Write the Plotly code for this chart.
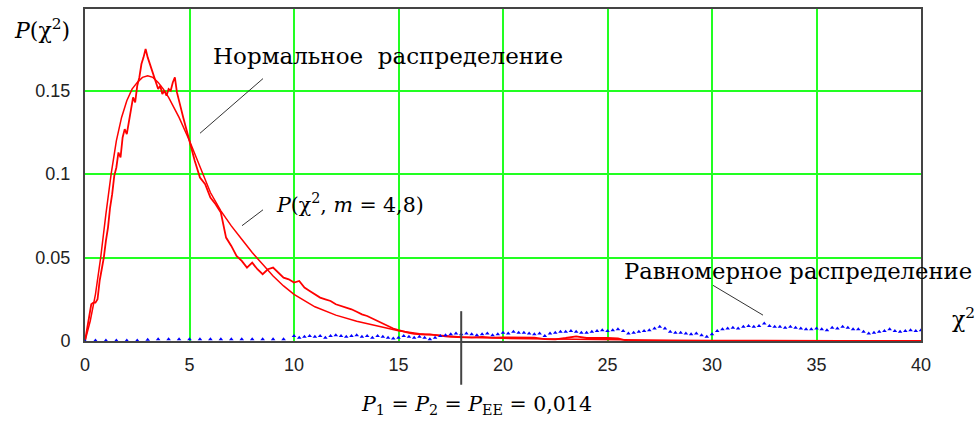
import numpy as np
import plotly.graph_objects as go

# ---------------- data ----------------
# Empirical (noisy) distribution – "Нормальное распределение"
noisy_x = list(np.round(np.arange(0, 5.0001, 0.1), 2)) + \
          list(np.round(np.arange(5.25, 18.0001, 0.25), 2)) + \
          list(np.round(np.arange(18.5, 40.0001, 0.5), 2))
noisy_y = [
    0.000, 0.008, 0.015, 0.022, 0.023, 0.023, 0.025, 0.036, 0.043, 0.050,
    0.060, 0.068, 0.080, 0.088, 0.099, 0.104, 0.113, 0.110, 0.122, 0.127,
    0.124, 0.132, 0.138, 0.146, 0.143, 0.153, 0.158, 0.166, 0.170, 0.175,
    0.170, 0.166, 0.162, 0.158, 0.155, 0.151, 0.153, 0.148, 0.150, 0.147,
    0.151, 0.150, 0.155, 0.158, 0.149, 0.143, 0.139, 0.134, 0.129, 0.124,
    0.119,
    0.108, 0.098, 0.094, 0.086, 0.082, 0.077, 0.062, 0.057, 0.051, 0.048,
    0.044, 0.047, 0.043, 0.040, 0.043, 0.044, 0.041, 0.038, 0.037, 0.035,
    0.036, 0.032, 0.030, 0.028, 0.026, 0.025, 0.024, 0.022, 0.021, 0.020,
    0.019, 0.0175, 0.016, 0.015, 0.0135, 0.012, 0.0105, 0.009, 0.0075, 0.0065,
    0.0055, 0.0048, 0.0043, 0.004, 0.0038, 0.004, 0.0035, 0.003, 0.0028, 0.0025,
    0.0023, 0.0022,
    0.002, 0.0024, 0.002, 0.0022, 0.002, 0.0018, 0.002, 0.0011, 0.001, 0.0018,
    0.0028, 0.0018, 0.0019, 0.0018, 0.0016,
    0, 0, 0, 0, 0, 0, 0, 0, 0, 0, 0, 0, 0, 0, 0, 0, 0, 0, 0, 0,
    0, 0, 0, 0, 0, 0, 0, 0, 0,
]

# Theoretical curve P(chi^2, m = 4,8)
smooth_x = [0, 0.25, 0.5, 0.75, 1, 1.25, 1.5, 1.75, 2, 2.25, 2.5, 2.75, 3, 3.25,
            3.5, 3.75, 4, 4.5, 5, 5.5, 6, 6.5, 7, 7.5, 8, 8.5, 9, 9.5, 10, 11,
            12, 13, 14, 15, 16, 17, 18, 20, 22, 24, 26, 28, 30, 35, 40]
smooth_y = [0, 0.012, 0.028, 0.05, 0.076, 0.1, 0.12, 0.134, 0.144, 0.151, 0.155,
            0.158, 0.159, 0.158, 0.155, 0.151, 0.146, 0.134, 0.12, 0.104, 0.089,
            0.078, 0.069, 0.061, 0.053, 0.046, 0.039, 0.033, 0.028, 0.0205,
            0.0155, 0.0118, 0.0088, 0.0062, 0.0043, 0.0034, 0.0024, 0.0016,
            0.0012, 0.0009, 0.0006, 0.0004, 0.0003, 0.0001, 0]

# Uniform distribution – "Равномерное распределение"
uni_x = list(np.round(np.arange(0, 10.0001, 0.5), 2)) + \
        list(np.round(np.arange(10.25, 40.0001, 0.25), 2))
uni_y = [
    0.0, 0.0003, 0.0003, 0.0003, 0.0003, 0.0003, 0.0008, 0.001, 0.001, 0.001,
    0.001, 0.001, 0.001, 0.001, 0.001, 0.001, 0.001, 0.001, 0.001, 0.001, 0.003,
    0.002, 0.0025, 0.003,
    0.0025, 0.003, 0.002, 0.003,
    0.0035, 0.003, 0.0025, 0.003,
    0.0035, 0.0025, 0.003, 0.002,
    0.003, 0.0025, 0.002, 0.0015,
    0.002, 0.003, 0.0025, 0.002,
    0.0025, 0.002, 0.001, 0.002,
    0.003, 0.0035, 0.004, 0.0045,
    0.004, 0.0045, 0.004, 0.0035,
    0.004, 0.0045, 0.0035, 0.004,
    0.005, 0.0045, 0.0055, 0.005,
    0.005, 0.0045, 0.004, 0.0045,
    0.003, 0.0045, 0.005, 0.0055,
    0.0055, 0.006, 0.0055, 0.005,
    0.005, 0.0055, 0.006, 0.0065,
    0.006, 0.0065, 0.007, 0.006,
    0.0045, 0.005, 0.0055, 0.006,
    0.0065, 0.0075, 0.0085, 0.0075,
    0.0055, 0.005, 0.005, 0.0045,
    0.004, 0.0045, 0.0035, 0.0025,
    0.004, 0.006, 0.007, 0.0075,
    0.008, 0.0075, 0.0085, 0.009,
    0.0085, 0.009, 0.0105, 0.009,
    0.0085, 0.0085, 0.008, 0.0085,
    0.008, 0.0075, 0.007, 0.007,
    0.0075, 0.007, 0.0065, 0.008,
    0.0075, 0.0085, 0.008, 0.007,
    0.007, 0.0055, 0.0045, 0.005,
    0.0055, 0.006, 0.007, 0.006,
    0.0055, 0.006, 0.0065, 0.006,
    0.0065,
]

x_ticks = [0, 5, 10, 15, 20, 25, 30, 35, 40]
y_ticks = [0, 0.05, 0.1, 0.15]
y_tick_text = ["0", "0.05", "0.1", "0.15"]
x_marker_value = 18

assert len(noisy_x) == len(noisy_y), (len(noisy_x), len(noisy_y))
assert len(uni_x) == len(uni_y), (len(uni_x), len(uni_y))

# ---------------- layout geometry ----------------
W, H = 978, 421
L, R, T, B = 85, 57, 7, 80
PW, PH = W - L - R, H - T - B


def px(xp):
    return (xp - L) / PW


def py(yp):
    return (H - B - yp) / PH


fig = go.Figure()
fig.add_trace(go.Scatter(x=smooth_x, y=smooth_y, mode="lines",
                         line=dict(color="#ff0000", width=1.5), hoverinfo="skip"))
fig.add_trace(go.Scatter(x=noisy_x, y=noisy_y, mode="lines",
                         line=dict(color="#ff0000", width=1.8), hoverinfo="skip"))
fig.add_trace(go.Scatter(x=uni_x, y=uni_y, mode="markers",
                         marker=dict(color="#0000ff", size=4, symbol="triangle-up",
                                     line=dict(width=0)), hoverinfo="skip"))

serif = "DejaVu Serif"
ann = [
    dict(text="<i>P</i>(χ<sup>2</sup>)", x=px(12), y=py(27), size=22),
    dict(text="Нормальное  распределение", x=px(211), y=py(54), size=23),
    dict(text="<i>P</i>(χ<sup>2</sup>, <i>m</i> = 4,8)", x=px(274), y=py(203), size=20.5),
    dict(text="Равномерное распределение", x=px(622), y=py(271), size=22.7),
    dict(text="χ<sup>2</sup>", x=px(950), y=py(318), size=22),
    dict(text="<i>P</i><sub>1</sub> = <i>P</i><sub>2</sub> = <i>P</i><sub>EE</sub> = 0,014",
         x=px(359), y=py(405), size=20.5),
]
for a in ann:
    fig.add_annotation(text=a["text"], x=a["x"], y=a["y"], xref="paper", yref="paper",
                       xanchor="left", yanchor="middle", showarrow=False,
                       font=dict(family=serif, size=a["size"], color="#000000"))

lead = dict(color="#333333", width=1)
fig.add_shape(type="line", xref="paper", yref="paper",
              x0=px(263), y0=py(77), x1=px(200), y1=py(132), line=lead)
fig.add_shape(type="line", xref="paper", yref="paper",
              x0=px(242), y0=py(225), x1=px(263), y1=py(209), line=lead)
fig.add_shape(type="line", xref="paper", yref="paper",
              x0=px(713), y0=py(285), x1=px(763), y1=py(315), line=lead)
fig.add_shape(type="line", xref="x", yref="paper",
              x0=x_marker_value, x1=x_marker_value, y0=py(311), y1=py(385),
              line=dict(color="#444444", width=2))

grid = "#22ff22"
fig.update_xaxes(range=[0, 40], tickvals=x_ticks, showgrid=True, gridcolor=grid,
                 gridwidth=1.6, zeroline=False, showline=True, mirror=True,
                 linecolor="#444444", linewidth=2, ticks="outside", ticklen=6,
                 tickcolor="rgba(0,0,0,0)",
                 tickfont=dict(family="Liberation Sans", size=18, color="#222222"))
fig.update_yaxes(range=[0, 0.199], tickvals=y_ticks, ticktext=y_tick_text,
                 showgrid=True, gridcolor=grid, gridwidth=1.6, zeroline=False,
                 showline=True, mirror=True, linecolor="#444444", linewidth=2,
                 ticks="outside", ticklen=9, tickcolor="rgba(0,0,0,0)",
                 tickfont=dict(family="Liberation Sans", size=18, color="#222222"))
fig.update_layout(width=W, height=H, margin=dict(l=L, r=R, t=T, b=B),
                  paper_bgcolor="white", plot_bgcolor="white", showlegend=False)

fig.write_html("out.html", config={"displayModeBar": False},
               post_script="document.body.style.margin='0';"
                           "document.body.style.padding='0';"
                           "document.body.style.overflow='hidden';")
